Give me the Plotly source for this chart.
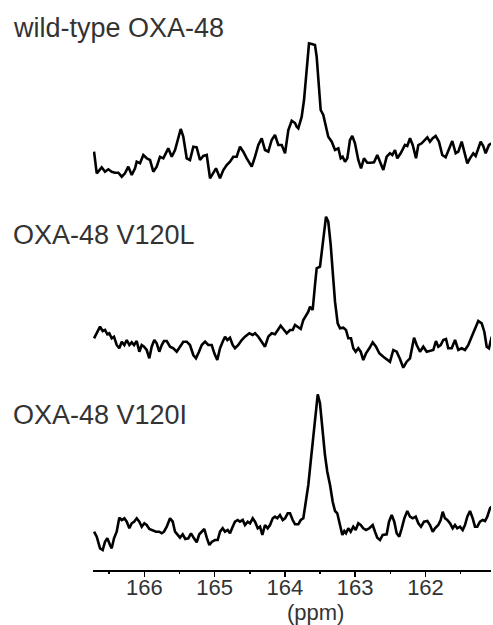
import plotly.graph_objects as go

# ---------------- data ----------------
labels = ["wild-type OXA-48", "OXA-48 V120L", "OXA-48 V120I"]

wt_ppm = [166.715, 166.677, 166.606, 166.559, 166.512, 166.464, 166.417, 166.370, 166.321, 166.275,
          166.228, 166.179, 166.132, 166.108, 166.061, 166.014, 165.966, 165.919, 165.872, 165.824,
          165.777, 165.730, 165.659, 165.610, 165.563, 165.516, 165.482, 165.445, 165.397, 165.350,
          165.303, 165.255, 165.208, 165.161, 165.112, 165.065, 165.018, 164.980, 164.923, 164.876,
          164.828, 164.781, 164.734, 164.686, 164.639, 164.592, 164.543, 164.472, 164.425, 164.378,
          164.330, 164.283, 164.236, 164.188, 164.141, 164.094, 164.045, 163.998, 163.951, 163.903,
          163.856, 163.832, 163.809, 163.761, 163.728, 163.690, 163.657, 163.619, 163.572, 163.548,
          163.515, 163.491, 163.454, 163.420, 163.383, 163.334, 163.287, 163.240, 163.206, 163.178,
          163.145, 163.112, 163.074, 163.041, 163.003, 162.956, 162.917, 162.875, 162.828, 162.779,
          162.732, 162.686, 162.647, 162.600, 162.552, 162.505, 162.472, 162.434, 162.401, 162.353,
          162.292, 162.259, 162.220, 162.182, 162.135, 162.102, 162.054, 162.007, 161.974, 161.936,
          161.897, 161.855, 161.808, 161.761, 161.713, 161.661, 161.619, 161.570, 161.533, 161.485,
          161.438, 161.405, 161.367, 161.320, 161.286, 161.249, 161.215, 161.178, 161.144, 161.097,
          161.058]
wt_int = [28.3, 6.7, 12.7, 8.3, 10.7, 8.3, 7.3, 7.3, 3.3, 6.7,
          13.3, 5.0, 11.7, 18.3, 16.7, 25.0, 21.7, 20.0, 8.3, 13.3,
          23.3, 21.7, 31.7, 23.3, 30.0, 43.3, 51.0, 43.3, 21.7, 20.0,
          33.3, 32.7, 20.0, 24.0, 25.0, 1.7, 6.7, 11.7, 1.7, 10.0,
          15.0, 18.3, 23.3, 23.3, 33.3, 28.3, 21.7, 13.3, 23.3, 35.0,
          41.7, 30.0, 28.3, 40.0, 45.0, 35.0, 35.0, 26.7, 50.0, 59.3,
          57.0, 53.3, 51.7, 63.3, 80.0, 110.0, 136.7, 136.0, 135.0, 123.3,
          90.0, 70.0, 65.0, 53.3, 43.3, 38.3, 30.0, 31.7, 21.7, 23.3,
          18.3, 21.7, 40.0, 44.0, 36.7, 20.0, 11.7, 21.7, 17.3, 17.3,
          17.7, 25.0, 18.3, 10.0, 23.3, 26.7, 25.0, 30.0, 21.7, 26.7,
          35.0, 34.0, 41.7, 35.0, 21.7, 35.0, 36.7, 40.7, 42.7, 38.3,
          41.7, 44.0, 38.3, 25.0, 22.7, 31.7, 39.0, 26.7, 28.3, 38.3,
          26.0, 16.7, 21.7, 26.7, 24.0, 31.7, 38.3, 34.0, 26.7, 35.0,
          36.7]

l_ppm = [166.715, 166.677, 166.630, 166.592, 166.559, 166.526, 166.498, 166.464, 166.431, 166.393,
         166.356, 166.321, 166.284, 166.250, 166.213, 166.179, 166.146, 166.108, 166.071, 166.037,
         166.004, 165.966, 165.929, 165.895, 165.858, 165.824, 165.787, 165.752, 165.720, 165.681,
         165.634, 165.587, 165.539, 165.492, 165.445, 165.397, 165.350, 165.303, 165.265, 165.222,
         165.183, 165.136, 165.090, 165.041, 165.004, 164.962, 164.923, 164.885, 164.852, 164.819,
         164.781, 164.743, 164.710, 164.663, 164.614, 164.568, 164.506, 164.458, 164.425, 164.378,
         164.330, 164.283, 164.236, 164.188, 164.141, 164.094, 164.060, 164.023, 163.974, 163.927,
         163.889, 163.856, 163.809, 163.775, 163.738, 163.700, 163.667, 163.643, 163.605, 163.572,
         163.548, 163.501, 163.454, 163.415, 163.383, 163.348, 163.320, 163.287, 163.249, 163.216,
         163.169, 163.131, 163.098, 163.060, 163.027, 162.993, 162.956, 162.922, 162.885, 162.846,
         162.799, 162.751, 162.704, 162.657, 162.600, 162.552, 162.505, 162.458, 162.410, 162.363,
         162.316, 162.267, 162.220, 162.163, 162.125, 162.078, 162.031, 161.983, 161.936, 161.889,
         161.851, 161.818, 161.784, 161.747, 161.708, 161.676, 161.627, 161.580, 161.533, 161.485,
         161.438, 161.391, 161.343, 161.296, 161.249, 161.200, 161.163, 161.129, 161.097, 161.058]
l_int = [31.7, 36.7, 43.3, 39.0, 40.0, 35.7, 36.7, 31.7, 33.3, 25.0,
         21.7, 28.3, 25.0, 30.0, 25.0, 27.7, 25.0, 29.0, 18.3, 25.0,
         23.3, 20.0, 11.7, 23.3, 30.0, 26.7, 18.3, 25.0, 29.0, 29.0,
         23.3, 21.7, 18.3, 23.3, 28.3, 28.3, 25.0, 15.0, 11.7, 18.3,
         25.0, 28.3, 25.0, 25.0, 16.7, 10.0, 21.7, 28.3, 33.3, 30.0,
         32.3, 25.0, 21.7, 25.0, 30.0, 33.3, 36.7, 35.0, 36.7, 33.3,
         27.7, 23.3, 33.3, 36.7, 35.7, 40.0, 44.3, 41.0, 36.7, 40.0,
         40.0, 45.0, 42.3, 41.0, 50.0, 55.0, 58.3, 63.3, 60.0, 85.0,
         101.7, 103.3, 128.3, 153.3, 148.3, 125.0, 98.3, 68.3, 46.7, 41.7,
         42.3, 40.0, 31.7, 31.7, 21.7, 18.3, 21.7, 18.3, 10.0, 16.7,
         21.7, 27.7, 23.3, 16.7, 13.3, 11.0, 8.3, 20.0, 18.3, 11.0,
         2.3, 8.3, 11.7, 32.3, 25.0, 18.3, 23.3, 18.3, 19.0, 20.0,
         29.0, 23.3, 25.0, 30.0, 31.0, 21.7, 21.7, 30.0, 20.0, 21.7,
         20.0, 25.0, 33.3, 41.7, 49.0, 46.7, 38.3, 23.3, 21.7, 33.3]

i_ppm = [166.715, 166.677, 166.630, 166.592, 166.559, 166.526, 166.488, 166.464, 166.431, 166.393,
         166.356, 166.321, 166.284, 166.250, 166.213, 166.179, 166.146, 166.108, 166.071, 166.037,
         166.000, 165.966, 165.929, 165.880, 165.834, 165.787, 165.752, 165.720, 165.681, 165.634,
         165.596, 165.563, 165.531, 165.492, 165.454, 165.417, 165.374, 165.336, 165.293, 165.255,
         165.218, 165.179, 165.146, 165.112, 165.075, 165.037, 164.994, 164.956, 164.923, 164.885,
         164.852, 164.814, 164.781, 164.743, 164.710, 164.671, 164.639, 164.600, 164.568, 164.529,
         164.496, 164.458, 164.425, 164.387, 164.354, 164.321, 164.283, 164.245, 164.212, 164.173,
         164.141, 164.108, 164.070, 164.031, 163.998, 163.960, 163.927, 163.889, 163.856, 163.809,
         163.775, 163.738, 163.700, 163.667, 163.633, 163.596, 163.562, 163.533, 163.501, 163.468,
         163.430, 163.397, 163.358, 163.320, 163.287, 163.255, 163.216, 163.183, 163.155, 163.131,
         163.098, 163.064, 163.027, 162.993, 162.956, 162.922, 162.885, 162.846, 162.799, 162.751,
         162.718, 162.686, 162.647, 162.609, 162.552, 162.519, 162.481, 162.444, 162.410, 162.373,
         162.338, 162.301, 162.259, 162.220, 162.182, 162.139, 162.102, 162.064, 162.021, 161.974,
         161.936, 161.897, 161.865, 161.818, 161.784, 161.755, 161.723, 161.690, 161.651, 161.613,
         161.580, 161.548, 161.509, 161.471, 161.438, 161.405, 161.367, 161.328, 161.296, 161.263,
         161.225, 161.186, 161.153, 161.121, 161.082, 161.058]
i_int = [28.3, 23.3, 11.7, 10.0, 18.3, 21.7, 15.0, 11.7, 21.7, 28.3,
         42.3, 40.0, 41.7, 38.3, 31.7, 36.7, 38.3, 41.7, 38.3, 33.3,
         36.7, 35.0, 31.0, 30.0, 28.3, 28.3, 26.7, 28.3, 33.3, 41.7,
         38.3, 28.3, 25.0, 22.3, 25.7, 21.0, 21.7, 26.7, 21.7, 17.7,
         25.7, 28.3, 31.0, 22.3, 15.0, 18.3, 20.0, 20.0, 28.3, 31.7,
         28.3, 30.0, 26.7, 33.3, 38.3, 40.0, 38.3, 40.0, 35.0, 38.3,
         36.7, 41.7, 38.3, 31.7, 33.3, 25.0, 35.0, 31.7, 35.0, 41.7,
         43.3, 41.7, 45.0, 40.0, 41.7, 46.7, 46.7, 40.0, 35.7, 35.7,
         40.0, 41.7, 58.3, 75.0, 98.3, 125.0, 151.7, 165.7, 156.7, 131.7,
         105.0, 88.3, 75.0, 58.3, 49.0, 46.7, 35.0, 25.0, 29.0, 26.7,
         31.7, 28.3, 33.3, 30.0, 36.7, 35.0, 31.7, 30.0, 31.7, 35.0,
         28.3, 22.3, 20.0, 25.0, 25.7, 38.3, 45.0, 38.3, 26.7, 23.3,
         31.7, 41.7, 49.0, 43.3, 41.7, 43.3, 36.7, 33.3, 38.3, 39.0,
         35.0, 28.3, 31.7, 35.0, 40.0, 48.3, 41.7, 40.0, 36.7, 31.7,
         35.0, 31.7, 33.3, 30.0, 35.0, 43.3, 49.0, 41.7, 33.3, 33.3,
         38.3, 40.0, 39.0, 43.3, 51.7, 53.3]

tick_vals = [166, 165, 164, 163, 162]
tick_text = ["166", "165", "164", "163", "162"]
x_title = "(ppm)"

# ---------------- layout constants ----------------
series = [(wt_ppm, wt_int), (l_ppm, l_int), (i_ppm, i_int)]
offsets = [390, 200, 10]          # vertical stacking (plot units = px)
label_y = [0.951, 0.588, 0.272]   # paper coords of the text labels
FONT = "Liberation Sans, Arial, Helvetica, sans-serif"
TXT = "#333333"

fig = go.Figure()
for (xs, ys), off in zip(series, offsets):
    fig.add_trace(go.Scatter(
        x=xs, y=[v + off for v in ys], mode="lines",
        line=dict(color="black", width=2.6), showlegend=False, hoverinfo="skip"))

for lab, ly in zip(labels, label_y):
    fig.add_annotation(text=lab, xref="paper", yref="paper", x=-0.205, y=ly,
                       xanchor="left", yanchor="middle", showarrow=False,
                       font=dict(family=FONT, size=27, color=TXT))

fig.add_annotation(text=x_title, xref="paper", yref="paper", x=0.558, y=-0.074,
                   xanchor="center", yanchor="middle", showarrow=False,
                   font=dict(family=FONT, size=22, color=TXT))

fig.update_layout(
    width=493, height=625,
    margin=dict(l=93, r=2, t=0, b=55),
    paper_bgcolor="white", plot_bgcolor="white",
    xaxis=dict(range=[166.73, 161.068], tickvals=tick_vals, ticktext=tick_text,
               showline=True, linecolor="black", linewidth=2,
               ticks="outside", ticklen=5, tickwidth=1.5, tickcolor="black",
               minor=dict(dtick=0.5, ticks="outside", ticklen=2, tickwidth=1.5, tickcolor="black"),
               ticklabelstandoff=-8,
               showgrid=False, zeroline=False,
               tickfont=dict(family=FONT, size=22, color=TXT)),
    yaxis=dict(range=[0, 570], visible=False, showgrid=False, zeroline=False),
)

fig.write_html("out.html", config={"displayModeBar": False, "staticPlot": True},
               post_script="document.body.style.margin='0px';document.body.style.overflow='hidden';")
